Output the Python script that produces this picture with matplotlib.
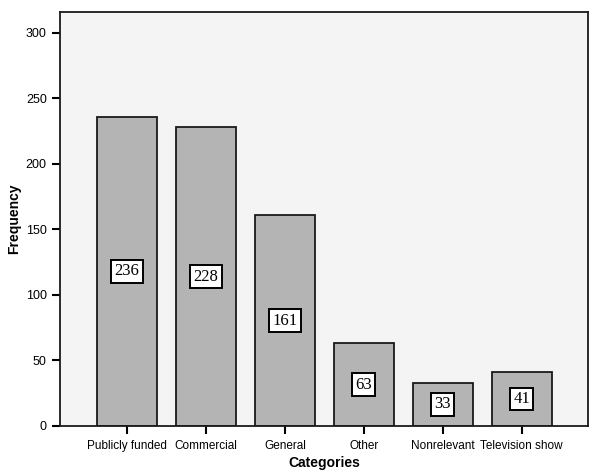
import matplotlib
matplotlib.use("Agg")
import matplotlib.pyplot as plt

categories = ["Publicly funded", "Commercial", "General", "Other",
              "Nonrelevant", "Television show"]
frequency = [236, 228, 161, 63, 33, 41]
y_ticks = [0, 50, 100, 150, 200, 250, 300]

plt.rcParams['font.family'] = ['Liberation Sans', 'DejaVu Sans']

fig = plt.figure(figsize=(6.01, 4.73), dpi=100)
ax = fig.add_axes([0.0998, 0.0994, 0.8785, 0.8752])
ax.set_facecolor('#f4f4f4')

x = range(len(categories))
ax.bar(x, frequency, width=0.76, color='#b4b4b4', edgecolor='#1a1a1a', linewidth=1.3)

# value labels in boxes at half bar height
for xi, v in zip(x, frequency):
    ax.text(xi, v / 2, str(v), ha='center', va='center', fontsize=12,
            family='Liberation Serif',
            bbox=dict(boxstyle='square,pad=0.2', facecolor='white',
                      edgecolor='black', linewidth=1.4))

ax.set_xlim(-0.85, 5.84)
ax.set_ylim(0, 316)
ax.set_yticks(y_ticks)
ax.set_xticks(list(x))
ax.set_xticklabels(categories, fontsize=8.5)
ax.tick_params(axis='y', labelsize=9, length=6, width=1.5)
ax.tick_params(axis='x', length=6, width=1.5, pad=4)

for s in ax.spines.values():
    s.set_linewidth(1.3)
    s.set_color('#1a1a1a')

ax.set_xlabel("Categories", fontsize=10, fontweight='bold', labelpad=3)
ax.set_ylabel("Frequency", fontsize=10, fontweight='bold', labelpad=3)

fig.savefig("out.png", dpi=100)
